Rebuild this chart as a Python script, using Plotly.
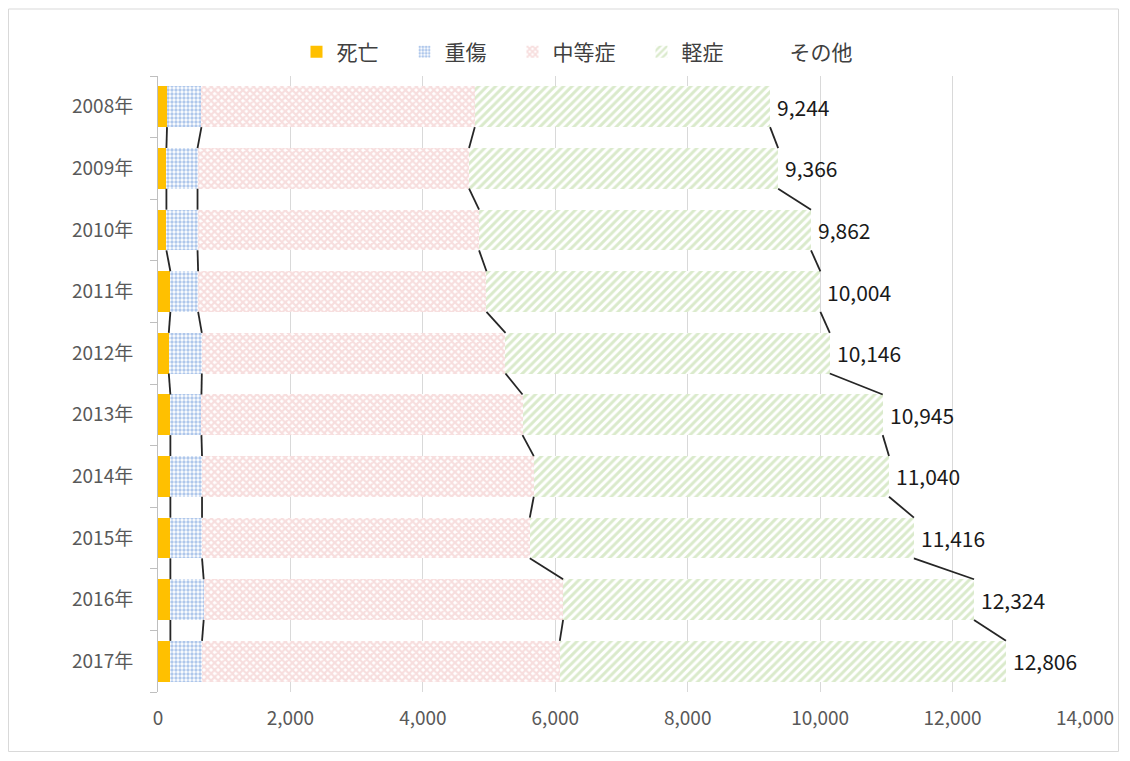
import plotly.graph_objects as go

years = ["2008年", "2009年", "2010年", "2011年", "2012年", "2013年", "2014年", "2015年", "2016年", "2017年"]
death = [136, 127, 127, 187, 163, 187, 187, 187, 187, 187]
serious = [520, 470, 470, 419, 499, 469, 478, 478, 503, 478]
moderate = [4128, 4101, 4252, 4355, 4586, 4849, 5010, 4950, 5428, 5403]
mild = [4460, 4668, 5013, 5043, 4898, 5440, 5365, 5801, 6206, 6738]
other = [0, 0, 0, 0, 0, 0, 0, 0, 0, 0]
totals = [9244, 9366, 9862, 10004, 10146, 10945, 11040, 11416, 12324, 12806]

ypos = list(range(len(years)))
BW = 0.66
FONT = "Noto Sans CJK JP"
SP = "\u3000"

W, H = 1112, 745
L, R, T, B = 150, 35, 68, 61
PW, PH = W - L - R, H - T - B

fig = go.Figure()
fig.add_trace(go.Bar(name="死亡" + SP, y=ypos, x=death, orientation="h", width=BW,
                     marker=dict(color="#FFC000", line=dict(width=0))))
fig.add_trace(go.Bar(name="重傷" + SP, y=ypos, x=serious, orientation="h", width=BW,
                     marker=dict(color="#5F90D8", line=dict(width=0),
                                 pattern=dict(shape=".", fgcolor="#5F90D8", bgcolor="white",
                                              size=4, solidity=0.55))))
fig.add_trace(go.Bar(name="中等症" + SP, y=ypos, x=moderate, orientation="h", width=BW,
                     marker=dict(color="#F0BDBD", line=dict(width=0),
                                 pattern=dict(shape="x", fgcolor="#F0BDBD", bgcolor="white",
                                              size=5, solidity=0.7))))
fig.add_trace(go.Bar(name="軽症" + SP, y=ypos, x=mild, orientation="h", width=BW,
                     marker=dict(color="#B5D598", line=dict(width=0),
                                 pattern=dict(shape="/", fgcolor="#B5D598", bgcolor="white",
                                              size=6, solidity=0.5))))
fig.add_trace(go.Bar(name="その他", y=ypos, x=other, orientation="h", width=BW,
                     marker=dict(color="rgba(0,0,0,0)", line=dict(width=0))))

# series lines between bars
segs_x, segs_y = [], []
series = [death, serious, moderate, mild]
for i in range(len(years) - 1):
    c1 = 0
    c2 = 0
    for s in series:
        c1 += s[i]
        c2 += s[i + 1]
        segs_x += [c1, c2, None]
        segs_y += [i + BW / 2, i + 1 - BW / 2, None]
fig.add_trace(go.Scatter(x=segs_x, y=segs_y, mode="lines", showlegend=False,
                         line=dict(color="#262626", width=1.8), hoverinfo="skip"))

for yv, tv in zip(ypos, totals):
    fig.add_annotation(x=tv, y=yv, text=f"{tv:,}", showarrow=False, xanchor="left",
                       yanchor="middle", xshift=5,
                       font=dict(family=FONT, size=21, color="#1a1a1a"))

fig.update_layout(
    barmode="stack",
    width=W, height=H,
    margin=dict(l=L, r=R, t=T, b=B, autoexpand=False),
    paper_bgcolor="white", plot_bgcolor="white",
    font=dict(family=FONT, color="#595959", size=19),
    legend=dict(orientation="h", x=(577 - 158) / PW, xanchor="center", y=(684 - 44) / PH,
                yanchor="middle",
                font=dict(size=21, color="#404040"), traceorder="normal",
                itemwidth=30, bgcolor="rgba(0,0,0,0)"),
    xaxis=dict(range=[0, 14000], dtick=2000, tickformat=",", showgrid=True, automargin=False,
               gridcolor="#D9D9D9", gridwidth=1, zeroline=False, showline=False,
               ticks="", ticklabelstandoff=13, tickfont=dict(size=19, color="#595959")),
    yaxis=dict(range=[9.5, -0.5], tickmode="array", tickvals=ypos, ticktext=years,
               showgrid=False, zeroline=False, showline=True, linecolor="#BFBFBF",
               linewidth=1, ticks="", ticklabelstandoff=20, automargin=False,
               minor=dict(tickmode="array", tickvals=[k - 0.5 for k in range(len(years) + 1)],
                          ticks="outside", ticklen=7, tickcolor="#BFBFBF", showgrid=False),
               tickfont=dict(size=19, color="#595959")),
    showlegend=True,
)

fig.add_shape(type="rect", xref="paper", yref="paper",
              x0=(0.5 - L) / PW, x1=(W - 1.5 - L) / PW,
              y0=-(H - 1.5 - (T + PH)) / PH, y1=(T + PH - 1) / PH,
              line=dict(color="#D9D9D9", width=1), fillcolor="rgba(0,0,0,0)", layer="below")

fig.write_html("out.html")
